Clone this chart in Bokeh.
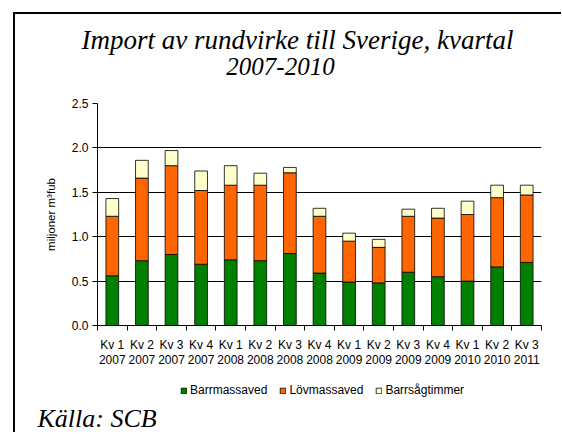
import numpy as np
from bokeh.plotting import figure
from bokeh.layouts import column
from bokeh.models import (ColumnDataSource, FixedTicker, Legend, LegendItem, Label,
                          Range1d, PrintfTickFormatter)
from bokeh.embed import file_html
from bokeh.resources import INLINE

quarters = ["Kv 1\n2007", "Kv 2\n2007", "Kv 3\n2007", "Kv 4\n2007", "Kv 1\n2008",
            "Kv 2\n2008", "Kv 3\n2008", "Kv 4\n2008", "Kv 1\n2009", "Kv 2\n2009",
            "Kv 3\n2009", "Kv 4\n2009", "Kv 1\n2010", "Kv 2\n2010", "Kv 3\n2011"]
barrmassaved = [0.56, 0.73, 0.80, 0.69, 0.74, 0.73, 0.81, 0.59, 0.49, 0.48, 0.60, 0.55, 0.50, 0.66, 0.71]
lovmassaved = [0.67, 0.93, 1.00, 0.83, 0.84, 0.85, 0.91, 0.64, 0.46, 0.40, 0.63, 0.66, 0.75, 0.78, 0.76]
barrsagtimmer = [0.20, 0.20, 0.17, 0.22, 0.22, 0.135, 0.06, 0.09, 0.09, 0.09, 0.08, 0.11, 0.15, 0.14, 0.11]
series = ["Barrmassaved", "Lövmassaved", "Barrsågtimmer"]
colors = ["#008000", "#FF6600", "#FFFFCC"]
yticks = [0.0, 0.5, 1.0, 1.5, 2.0, 2.5]
title_lines = ["Import av rundvirke till Sverige, kvartal", "2007-2010"]
source_note = "Källa: SCB"

xs = np.arange(len(quarters)) + 0.5
src = ColumnDataSource(dict(x=xs, Barrmassaved=barrmassaved, Lövmassaved=lovmassaved,
                            Barrsågtimmer=barrsagtimmer))

SANS = "Liberation Sans"
SERIF = "Liberation Serif"
W = 546


def blank(h):
    f = figure(width=W, height=h, x_range=Range1d(0, 1), y_range=Range1d(0, 1),
               x_axis_type=None, y_axis_type=None, output_backend="svg",
               toolbar_location=None, min_border=0, frame_align=False)
    f.outline_line_color = None
    f.grid.visible = False
    return f


# ---- title strip
T = blank(79)
T.add_layout(Label(x=282, y=54, x_units="screen", y_units="screen", text=title_lines[0],
                   text_font=SERIF, text_font_style="italic", text_font_size="27px",
                   text_align="center", text_baseline="alphabetic", text_color="black"))
T.add_layout(Label(x=265, y=27, x_units="screen", y_units="screen", text=title_lines[1],
                   text_font=SERIF, text_font_style="italic", text_font_size="25px",
                   text_align="center", text_baseline="alphabetic", text_color="black"))

# ---- main chart
p = figure(width=W, height=277, x_range=Range1d(0, len(quarters)), y_range=Range1d(0, 2.5),
           output_backend="svg", toolbar_location=None, frame_align=False,
           min_border_left=82, min_border_right=20, min_border_top=10, min_border_bottom=45)
p.outline_line_color = None

rs = p.vbar_stack(series, x="x", width=0.43, color=colors, source=src,
                  line_color="black", line_width=0.8)

p.xaxis.ticker = FixedTicker(ticks=list(xs), minor_ticks=list(range(len(quarters) + 1)))
p.xaxis.major_label_overrides = {float(x): q for x, q in zip(xs, quarters)}
p.xaxis.major_tick_out = 0
p.xaxis.major_tick_in = 0
p.xaxis.minor_tick_out = 5
p.xaxis.minor_tick_in = 0
p.xaxis.minor_tick_line_color = "black"
p.xaxis.axis_line_color = "black"
p.xaxis.major_label_standoff = 7
p.xaxis.major_label_text_font = SANS
p.xaxis.major_label_text_font_size = "12px"
p.xaxis.major_label_text_color = "black"
p.xaxis.major_label_text_line_height = 1.1

p.yaxis.ticker = FixedTicker(ticks=yticks, minor_ticks=[])
p.yaxis.formatter = PrintfTickFormatter(format="%.1f")
p.yaxis.major_tick_out = 5
p.yaxis.major_tick_in = 0
p.yaxis.major_tick_line_color = "black"
p.yaxis.axis_line_color = "black"
p.yaxis.major_label_standoff = 4
p.yaxis.major_label_text_font = SANS
p.yaxis.major_label_text_font_size = "12px"
p.yaxis.major_label_text_color = "black"
p.yaxis.axis_label = "miljoner m³fub"
p.yaxis.axis_label_text_font = SANS
p.yaxis.axis_label_text_font_style = "normal"
p.yaxis.axis_label_text_font_size = "11.5px"
p.yaxis.axis_label_text_color = "black"
p.yaxis.axis_label_standoff = 12

p.xgrid.grid_line_color = None
p.ygrid.ticker = FixedTicker(ticks=yticks)
p.ygrid.grid_line_color = "black"
p.ygrid.grid_line_width = 1

# ---- legend + source strip
B = blank(62)
keys = B.vbar_stack(series, x="x", width=0.43, color=colors, source=src,
                    line_color="black", line_width=0.8, visible=False)
legend = Legend(items=[LegendItem(label=s, renderers=[r]) for s, r in zip(series, keys)],
                orientation="horizontal", location=(165, 35), padding=0, margin=0,
                border_line_color=None, background_fill_alpha=0,
                glyph_width=7, glyph_height=7, label_height=12, label_standoff=3,
                spacing=12, label_text_font=SANS, label_text_font_size="12px",
                label_text_color="black")
B.add_layout(legend, "center")
B.add_layout(Label(x=22, y=14, x_units="screen", y_units="screen", text=source_note,
                   text_font=SERIF, text_font_style="italic", text_font_size="26px",
                   text_align="left", text_baseline="alphabetic", text_color="black"))

page = column(T, p, B, spacing=0, margin=(12, 0, 0, 13),
              styles={"border-left": "2px solid black", "border-top": "2px solid black"})

open("out.html", "w").write(file_html(page, INLINE))
